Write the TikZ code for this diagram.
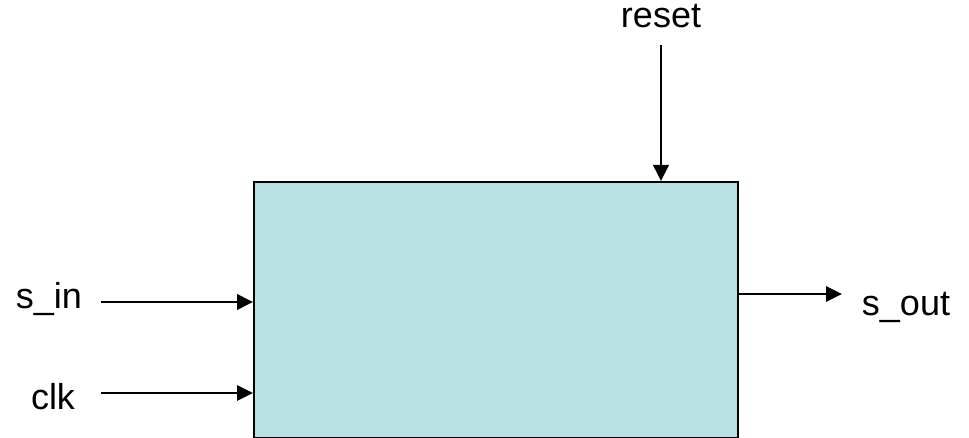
\documentclass[tikz,border=0pt]{standalone}
\usepackage{fontspec}
\setmainfont{Liberation Sans}
\usetikzlibrary{arrows.meta}
\definecolor{blockfill}{RGB}{185,224,227}
\begin{document}
\begin{tikzpicture}[x=0.75pt,y=-0.75pt,
  lbl/.style={anchor=base,inner sep=0pt,font=\fontsize{27}{32}\selectfont},
  sig/.style={line width=2pt,-{Triangle[length=12pt,width=11.5pt]}},
  thin sig/.style={line width=1.4pt,-{Triangle[length=12pt,width=11.5pt]}}]
  \useasboundingbox (0,0) rectangle (969,438);
  % the block
  \node[draw=black,line width=1.2pt,fill=blockfill,inner sep=0pt,
        minimum width=484*0.75pt,minimum height=256*0.75pt,anchor=north west]
        (blk) at (253,181) {};
  % signal names
  \node[lbl] (sin) at (49,308) {s\_in};
  \node[lbl] (clk) at (53,409) {clk};
  \node[lbl] (reset) at (661,28) {reset};
  \node[lbl] (sout) at (906,315) {s\_out};
  % wire ends
  \coordinate (sinA) at (101,302);
  \coordinate (clkA) at (101,393);
  \coordinate (rstA) at (661,45);
  \coordinate (soutB) at (842,294);
  % wires
  \draw[sig] (sinA) -- (sinA -| blk.west);
  \draw[thin sig] (clkA) -- (clkA -| blk.west);
  \draw[sig] (rstA) -- (rstA |- blk.north);
  \draw[thin sig] (soutB -| blk.east) -- (soutB);
\end{tikzpicture}
\end{document}
